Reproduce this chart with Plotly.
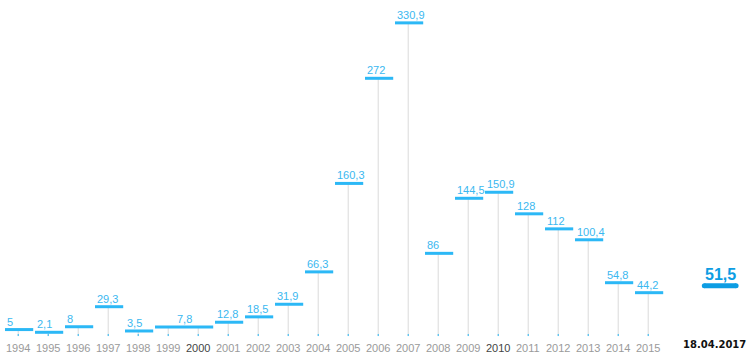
import plotly.graph_objects as go

# ---- data ----
years = list(range(1994, 2016))
period_start = [1994, 1995, 1996, 1997, 1998, 1999, 2001, 2002, 2003, 2004, 2005,
                2006, 2007, 2008, 2009, 2010, 2011, 2012, 2013, 2014, 2015]
period_end = [1994, 1995, 1996, 1997, 1998, 2000, 2001, 2002, 2003, 2004, 2005,
              2006, 2007, 2008, 2009, 2010, 2011, 2012, 2013, 2014, 2015]
values = [5, 2.1, 8, 29.3, 3.5, 7.8, 12.8, 18.5, 31.9, 66.3, 160.3,
          272, 330.9, 86, 144.5, 150.9, 128, 112, 100.4, 54.8, 44.2]
highlight_years = [2000, 2010]
current_value = 51.5
current_date = "18.04.2017"
current_pos = 2017.4

BAR = "#2cb8f6"
LABEL = "#3bb8f0"
CUR = "#0d9de3"
STEM = "#dadada"

def fmt(v):
    return f"{v:g}".replace(".", ",")

fig = go.Figure()

# stems
base = -1.9
sx, sy, tx, ty = [], [], [], []
for y in years:
    for s, e, v in zip(period_start, period_end, values):
        if s <= y <= e:
            sx += [y, y, None]
            sy += [v, base, None]
            tx += [y, y, None]
            ty += [0.3, base, None]
fig.add_trace(go.Scatter(x=sx, y=sy, mode="lines", line=dict(color=STEM, width=1),
                         hoverinfo="skip"))
fig.add_trace(go.Scatter(x=tx, y=ty, mode="lines", line=dict(color=BAR, width=1),
                         hoverinfo="skip"))

# bars
bx, by = [], []
for s, e, v in zip(period_start, period_end, values):
    bx += [s - 0.44, e + 0.5, None]
    by += [v, v, None]
fig.add_trace(go.Scatter(x=bx, y=by, mode="lines", line=dict(color=BAR, width=3),
                         hoverinfo="skip"))

# current value bar (rounded)
fig.add_trace(go.Scatter(x=[current_pos - 0.53, current_pos + 0.53],
                         y=[current_value, current_value], mode="lines+markers",
                         line=dict(color=CUR, width=5),
                         marker=dict(color=CUR, size=5), hoverinfo="skip"))

ann = []
for s, e, v in zip(period_start, period_end, values):
    if s == e:
        ann.append(dict(x=s - 0.44, y=v, xref="x", yref="y", text=fmt(v),
                        xanchor="left", yanchor="bottom", showarrow=False, yshift=0,
                        font=dict(family="Liberation Sans, Arial", size=11, color=LABEL)))
    else:
        ann.append(dict(x=(s + e) / 2 + 0.03, y=v, xref="x", yref="y", text=fmt(v),
                        xanchor="center", yanchor="bottom", showarrow=False, yshift=0,
                        font=dict(family="Liberation Sans, Arial", size=11, color=LABEL)))
for y in years:
    ann.append(dict(x=y, y=-15.0, xref="x", yref="y", text=str(y), showarrow=False,
                    xanchor="center", yanchor="middle",
                    font=dict(family="Liberation Sans, Arial", size=11,
                              color="#444444" if y in highlight_years else "#9a9a9a")))
ann.append(dict(x=current_pos, y=current_value, xref="x", yref="y",
                text="<b>" + fmt(current_value) + "</b>", showarrow=False,
                xanchor="center", yanchor="bottom", yshift=1,
                font=dict(family="Liberation Sans, Arial", size=16, color=CUR)))
ann.append(dict(x=current_pos, y=-10.9, xref="x", yref="y", xshift=-6,
                text="<b>" + current_date + "</b>", showarrow=False,
                xanchor="center", yanchor="middle",
                font=dict(family="DejaVu Sans", size=10, color="#111111")))

fig.update_layout(
    width=753, height=361, margin=dict(l=0, r=0, t=0, b=0),
    paper_bgcolor="white", plot_bgcolor="white", showlegend=False,
    xaxis=dict(range=[1993.393, 2018.493], visible=False, fixedrange=True),
    yaxis=dict(range=[-28.4, 355.2], visible=False, fixedrange=True),
    annotations=ann,
)
fig.write_html("out.html", config={"displayModeBar": False},
               post_script="document.body.style.margin='0';document.body.style.overflow='hidden';")
